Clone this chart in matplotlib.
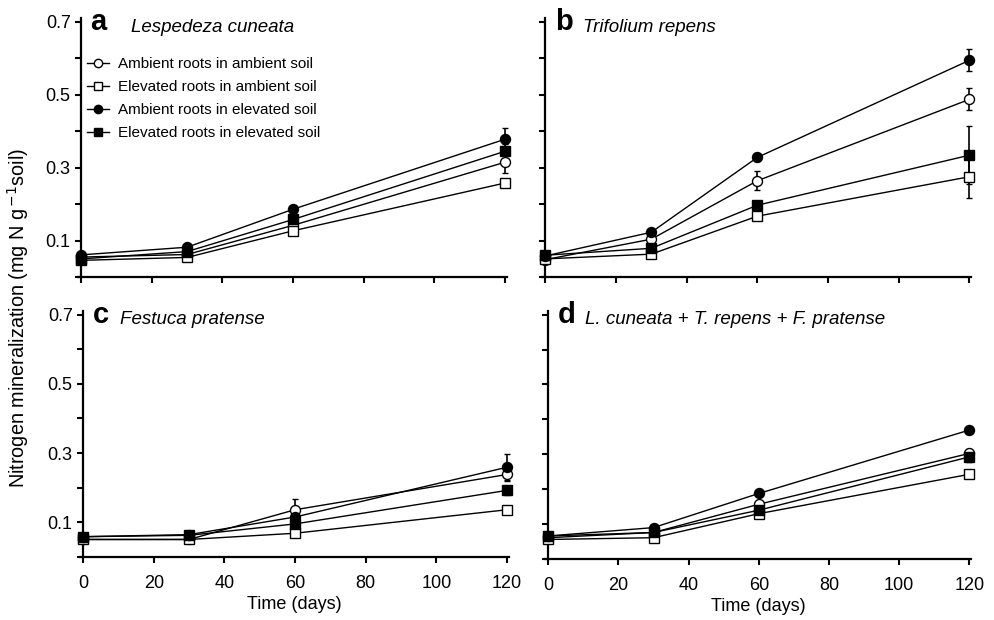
import numpy as np
import matplotlib.pyplot as plt
from matplotlib.lines import Line2D

plt.rcParams["font.family"] = ["Liberation Sans", "DejaVu Sans"]

days = [0, 30, 60, 120]
labels = [
    "Ambient roots in ambient soil",
    "Elevated roots in ambient soil",
    "Ambient roots in elevated soil",
    "Elevated roots in elevated soil",
]

# panel a: Lespedeza cuneata
a_vals = [
    [0.055, 0.062, 0.142, 0.315],
    [0.046, 0.054, 0.127, 0.258],
    [0.061, 0.082, 0.186, 0.378],
    [0.050, 0.070, 0.158, 0.345],
]
a_err = [
    [0.005, 0.005, 0.008, 0.030],
    [0.004, 0.005, 0.008, 0.010],
    [0.005, 0.006, 0.008, 0.030],
    [0.005, 0.005, 0.008, 0.020],
]

# panel b: Trifolium repens
b_vals = [
    [0.048, 0.104, 0.264, 0.487],
    [0.050, 0.063, 0.167, 0.275],
    [0.058, 0.123, 0.328, 0.594],
    [0.060, 0.079, 0.197, 0.334],
]
b_err = [
    [0.005, 0.008, 0.026, 0.030],
    [0.005, 0.005, 0.010, 0.058],
    [0.005, 0.008, 0.010, 0.030],
    [0.005, 0.006, 0.010, 0.080],
]

# panel c: Festuca pratense
c_vals = [
    [0.050, 0.050, 0.136, 0.238],
    [0.050, 0.050, 0.068, 0.136],
    [0.058, 0.064, 0.115, 0.259],
    [0.058, 0.062, 0.095, 0.192],
]
c_err = [
    [0.004, 0.004, 0.030, 0.020],
    [0.004, 0.004, 0.006, 0.008],
    [0.004, 0.004, 0.010, 0.037],
    [0.004, 0.004, 0.010, 0.012],
]

# panel d: mixture
d_vals = [
    [0.060, 0.075, 0.156, 0.302],
    [0.055, 0.060, 0.129, 0.242],
    [0.065, 0.089, 0.187, 0.369],
    [0.065, 0.075, 0.139, 0.292],
]
d_err = [
    [0.005, 0.005, 0.010, 0.012],
    [0.004, 0.004, 0.006, 0.010],
    [0.004, 0.005, 0.006, 0.006],
    [0.004, 0.005, 0.008, 0.015],
]

markers = ["o", "s", "o", "s"]
faces = ["white", "white", "black", "black"]

panels = [
    ("a", "Lespedeza cuneata", a_vals, a_err, [0.078, 0.553, 0.432, 0.418]),
    ("b", "Trifolium repens", b_vals, b_err, [0.545, 0.553, 0.432, 0.418]),
    ("c", "Festuca pratense", c_vals, c_err, [0.080, 0.102, 0.432, 0.396]),
    ("d", "L. cuneata + T. repens + F. pratense", d_vals, d_err,
     [0.548, 0.099, 0.429, 0.399]),
]

fig = plt.figure(figsize=(9.94, 6.2), dpi=100)

for i, (letter, title, vals, errs, pos) in enumerate(panels):
    ax = fig.add_axes(pos)
    for j in range(4):
        ax.errorbar(days, vals[j], yerr=errs[j], color="black", lw=1.0,
                    marker=markers[j], ms=7.2 if markers[j] == "o" else 7,
                    mfc=faces[j], mec="black", mew=1.0,
                    ecolor="black", elinewidth=1.2, capsize=2.5, capthick=1.2,
                    clip_on=False, zorder=3)
    ax.set_xlim(-1, 120.5)
    ax.set_ylim(0, 0.71)
    ax.spines["left"].set_position(("data", 0))
    for s in ["top", "right"]:
        ax.spines[s].set_visible(False)
    for s in ["left", "bottom"]:
        ax.spines[s].set_linewidth(1.6)
    ax.set_xticks([0, 20, 40, 60, 80, 100, 120])
    ax.set_yticks(np.arange(0, 0.71, 0.1))
    ax.tick_params(direction="out", length=4, width=1.5, labelsize=13)
    ax.tick_params(axis="x", pad=9)
    if i % 2 == 0:
        ax.set_yticklabels(["", "0.1", "", "0.3", "", "0.5", "", "0.7"])
    else:
        ax.set_yticklabels([])
    if i >= 2:
        ax.set_xlabel("Time (days)", fontsize=13, labelpad=3)
    else:
        ax.set_xticklabels([])

    ax.text(0.03, 0.985, letter, transform=ax.transAxes, fontsize=21,
            fontweight="bold", va="center", ha="left")
    tx = 0.125 if letter == "a" else 0.095
    ax.text(tx, 0.965, title, transform=ax.transAxes, fontsize=13.5,
            style="italic", va="center", ha="left")

    if letter == "a":
        handles = [Line2D([], [], color="black", lw=1.0, marker=markers[j],
                          ms=6 if markers[j] == "o" else 5.5,
                          mfc=faces[j], mec="black", mew=1.0)
                   for j in range(4)]
        ax.legend(handles, labels, loc="upper left",
                  bbox_to_anchor=(0.021, 0.85), frameon=False,
                  fontsize=11, handlelength=1.45, handletextpad=0.6,
                  labelspacing=0.6, borderaxespad=0, borderpad=0)

fig.text(0.018, 0.487, r"Nitrogen mineralization (mg N g$^{\,\mathrm{-1}}$soil)",
         rotation=90, va="center", ha="center", fontsize=14.3)

fig.savefig("out.png", dpi=100)
